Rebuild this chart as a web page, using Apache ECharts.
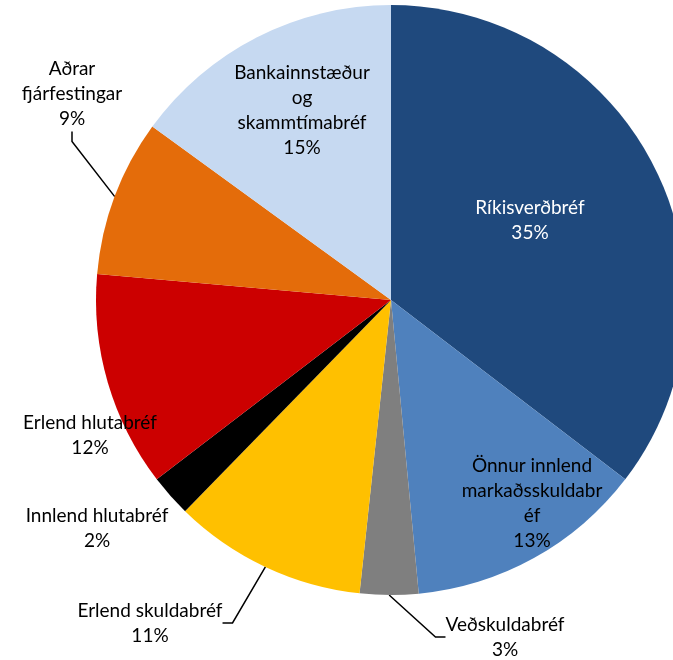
<!DOCTYPE html>
<html><head><meta charset="utf-8">
<script src="https://cdn.jsdelivr.net/npm/echarts@6/dist/echarts.min.js"></script>
<style>html,body{margin:0;padding:0;background:#fff}#c{width:673px;height:660px}</style>
</head><body><div id="c"></div>
<script>
const categories = ['Ríkisverðbréf', 'Önnur innlend\nmarkaðsskuldabr\néf', 'Veðskuldabréf', 'Erlend skuldabréf', 'Innlend hlutabréf', 'Erlend hlutabréf', 'Aðrar\nfjárfestingar', 'Bankainnstæður\nog\nskammtímabréf'];
const values = [35.4, 13.1, 3.2, 10.6, 2.3, 11.8, 8.6, 15.0];
const colors = ['#1F497D', '#4F81BD', '#7F7F7F', '#FFC000', '#000000', '#CC0000', '#E46C0A', '#C6D9F1'];
const labelPos = [[530, 220], [532, 503], [505, 637], [150, 623], [97, 528], [90, 435], [72, 94], [302, 110]];
const insideIdx = [0, 1, 7];
const lineIdx = [2, 3, 6];

const chart = echarts.init(document.getElementById('c'));
const data = categories.map((n, i) => ({
  name: n, value: values[i],
  itemStyle: { color: colors[i] },
  label: {
    position: insideIdx.includes(i) ? 'inside' : 'outside',
    color: i === 0 ? '#ffffff' : '#000000'
  },
  labelLine: { show: lineIdx.includes(i), lineStyle: { color: '#000', width: 1.5 }, length: 12, length2: 10 }
}));
chart.setOption({
  animation: false,
  series: [{
    type: 'pie',
    center: [391, 300],
    radius: [0, 295],
    startAngle: 90,
    clockwise: true,
    avoidLabelOverlap: false,
    percentPrecision: 0,
    data: data,
    label: {
      show: true,
      formatter: '{b}\n{d}%',
      fontFamily: 'Lato, "Open Sans", sans-serif',
      fontSize: 19,
      lineHeight: 25,
      align: 'center'
    },
    labelLayout: function (p) {
      const pos = labelPos[p.dataIndex];
      return { x: pos[0], y: pos[1], align: 'center', verticalAlign: 'middle', moveOverlap: null };
    }
  }]
});
</script></body></html>
